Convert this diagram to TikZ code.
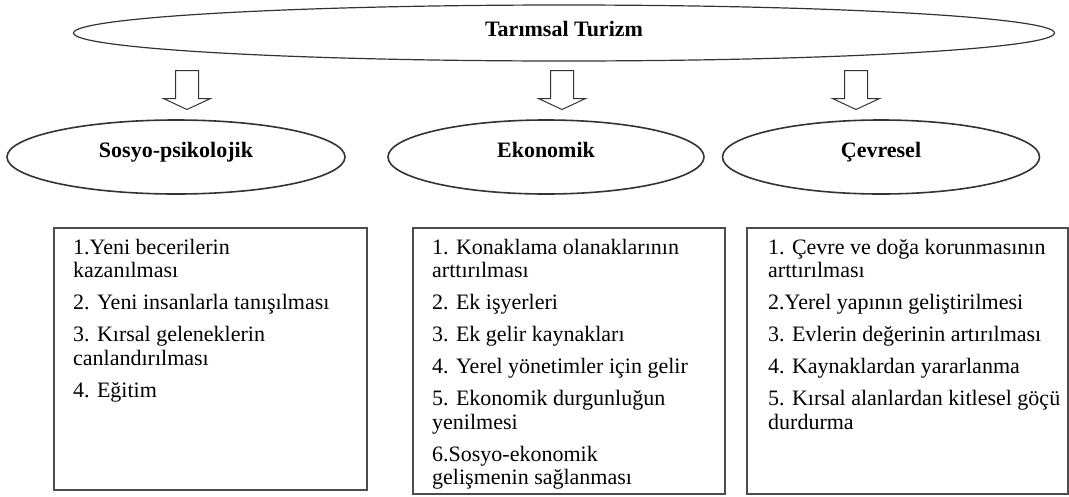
\documentclass[tikz,border=0pt]{standalone}
\usepackage{fontspec}
\setmainfont{Liberation Serif}
\usetikzlibrary{shapes.geometric,shapes.arrows,positioning}

\begin{document}
\begin{tikzpicture}[x=1pt,y=-1pt,
  oval/.style={ellipse,draw=black!80,line width=1.6pt,inner sep=0pt,text height=9pt,text depth=9pt,
    font=\fontsize{22}{26}\selectfont\bfseries},
  downarrow/.style={single arrow,draw=black!80,line width=1pt,shape border rotate=270,inner sep=11pt,
    minimum height=39pt,single arrow head extend=12pt,single arrow head indent=0pt,single arrow tip angle=130,anchor=tail},
  box/.style={rectangle,draw=black!70,line width=1.6pt,inner sep=0pt,anchor=north west},
  items/.style={inner sep=0pt,align=left,font=\fontsize{22}{23.5}\selectfont}]
  \useasboundingbox (0,0) rectangle (1069,496);

  \node[oval,line width=1.2pt,text height=12pt,text depth=6pt,minimum width=981pt,minimum height=56pt] (tt) at (564,33) {Tarımsal Turizm};

  \node[downarrow] (ar1) at (187,70) {};
  \node[downarrow] (ar2) at (562,70) {};
  \node[downarrow] (ar3) at (856,70) {};

  \node[oval,minimum width=338pt,minimum height=74pt] (sp) at (176,157) {Sosyo-psikolojik};
  \node[oval,minimum width=316pt,minimum height=74pt] (ek) at (546,157) {Ekonomik};
  \node[oval,minimum width=317pt,minimum height=74pt] (cv) at (881,157) {Çevresel};

  \node[box,minimum width=313pt,minimum height=262pt] (b1) at (53,227) {};
  \node[box,minimum width=312pt,minimum height=266pt] (b2) at (412,227) {};
  \node[box,minimum width=321pt,minimum height=266pt] (b3) at (746,227) {};

  \node[items,below right=12pt and 20pt of b1.north west] (l1) {%
    1.Yeni becerilerin\\ kazanılması\\[8.5pt]
    2. Yeni insanlarla tanışılması\\[8.5pt]
    3. Kırsal geleneklerin\\ canlandırılması\\[8.5pt]
    4. Eğitim};
  \node[items,below right=12pt and 20pt of b2.north west] (l2) {%
    1. Konaklama olanaklarının\\ arttırılması\\[8.5pt]
    2. Ek işyerleri\\[8.5pt]
    3. Ek gelir kaynakları\\[8.5pt]
    4. Yerel yönetimler için gelir\\[8.5pt]
    5. Ekonomik durgunluğun\\ yenilmesi\\[8.5pt]
    6.Sosyo-ekonomik\\ gelişmenin sağlanması};
  \node[items,below right=12pt and 22pt of b3.north west] (l3) {%
    1. Çevre ve doğa korunmasının\\ arttırılması\\[8.5pt]
    2.Yerel yapının geliştirilmesi\\[8.5pt]
    3. Evlerin değerinin artırılması\\[8.5pt]
    4. Kaynaklardan yararlanma\\[8.5pt]
    5. Kırsal alanlardan kitlesel göçü\\ durdurma};
\end{tikzpicture}
\end{document}
